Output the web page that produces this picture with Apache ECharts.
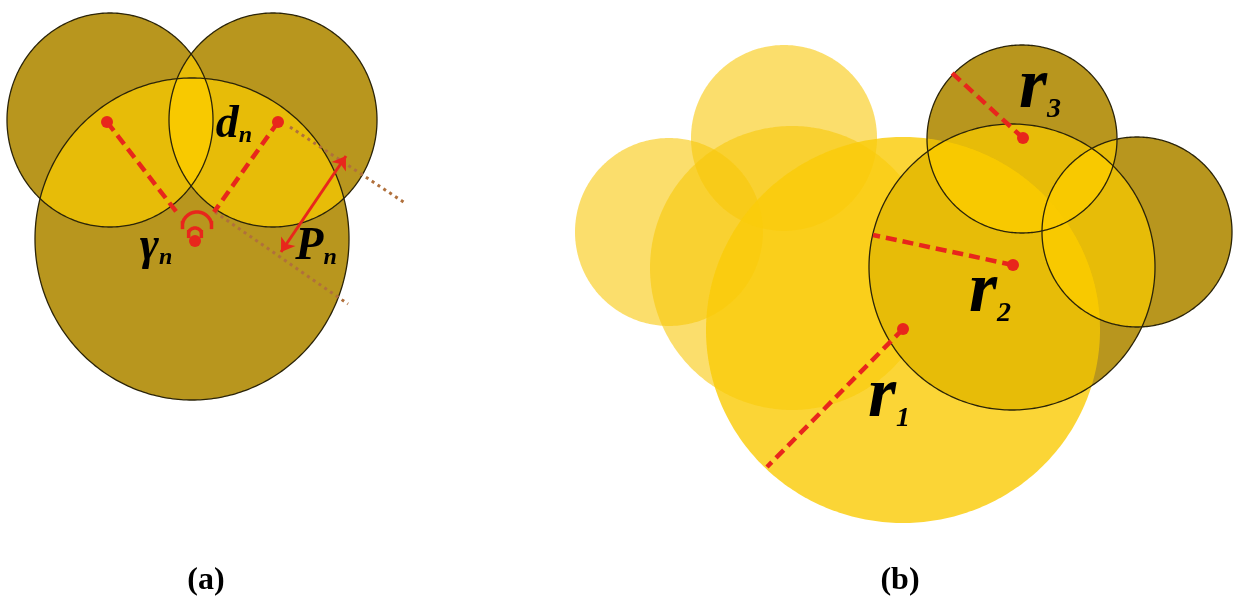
<!DOCTYPE html>
<html>
<head>
<meta charset="utf-8">
<title>coverage circles</title>
<script src="https://cdn.jsdelivr.net/npm/echarts@6/dist/echarts.min.js"></script>
<style>
html, body { margin: 0; padding: 0; background: #fff; }
#main { width: 1240px; height: 606px; }
</style>
</head>
<body>
<div id="main"></div>
<script>
// disks are [cx, cy, rx, ry] in picture units
var disksA = [
    [110, 120, 103, 107],
    [273, 120, 104, 107],
    [192, 239, 157, 161]
];
var paleDisks = [
    [669, 232, 94, 94],
    [784, 138, 93, 93],
    [792, 268, 142, 142]
];
var bigDisk = [[903, 330, 197, 193]];
var darkDisks = [
    [1012, 267, 143, 143],
    [1022, 139, 95, 94],
    [1137, 232, 95, 95]
];

var centersA = [[107, 122], [278, 122], [195, 241]];
var radiusEndsA = [[178, 214], [214, 212]];
var centersB = [[903, 329], [1013, 265], [1023, 138]];
var radiusEndsB = [[767, 467], [873, 235], [952, 73]];
var tangentLines = [[[290, 127], [405, 203]], [[215, 212], [348, 304]]];
var widthArrow = [[281, 252], [346, 156]];
// cx, cy, r, start deg, end deg
var angleArcs = [[197, 227, 15, 15, 165], [195, 235, 7, 25, 155]];

var symbolsA = [['d', 'n', 234, 125], ['γ', 'n', 156, 247], ['P', 'n', 316, 247]];
var symbolsB = [['r', '1', 889, 397], ['r', '2', 990, 292], ['r', '3', 1040, 88]];
var captions = [['(a)', 206, 581], ['(b)', 900, 581]];

var RED = '#e8261c';
var DARK = '#b8961e';
var LIGHT = 'rgba(250,202,0,0.72)';

// overlap tables built from the disks
var lensA = [];
for (var i = 0; i < disksA.length; i++) {
    for (var j = i + 1; j < disksA.length; j++) {
        lensA.push(disksA[i].concat(disksA[j]));
    }
}
var lensB = [];
darkDisks.forEach(function (d, i) {
    lensB.push(d.concat(bigDisk[0]));
    for (var j = i + 1; j < darkDisks.length; j++) {
        lensB.push(d.concat(darkDisks[j]));
    }
});

function toPx(api, c) {
    var p = api.coord([c[0], c[1]]);
    var s = api.size([c[2], c[3]], [c[0], c[1]]);
    return {x: p[0], y: p[1], rx: Math.abs(s[0]), ry: Math.abs(s[1])};
}
function ellipsePts(e, n) {
    var pts = [];
    for (var k = 0; k < n; k++) {
        var t = k / n * Math.PI * 2;
        pts.push([e.x + e.rx * Math.cos(t), e.y + e.ry * Math.sin(t)]);
    }
    return pts;
}
function inside(e, p) {
    var dx = (p[0] - e.x) / e.rx, dy = (p[1] - e.y) / e.ry;
    return dx * dx + dy * dy <= 1.0001;
}
// common part of convex disks, as a polygon
function commonPts(list) {
    var pts = [];
    list.forEach(function (e, k) {
        ellipsePts(e, 900).forEach(function (p) {
            var ok = list.every(function (o, m) { return m === k || inside(o, p); });
            if (ok) pts.push(p);
        });
    });
    if (pts.length < 3) return null;
    var mx = 0, my = 0;
    pts.forEach(function (p) { mx += p[0]; my += p[1]; });
    mx /= pts.length; my /= pts.length;
    pts.sort(function (a, b) {
        return Math.atan2(a[1] - my, a[0] - mx) - Math.atan2(b[1] - my, b[0] - mx);
    });
    return pts;
}

function diskSeries(data, z, style) {
    return {
        type: 'custom', z: z, silent: true, data: data,
        encode: {x: 0, y: 1},
        renderItem: function (params, api) {
            var e = toPx(api, [api.value(0), api.value(1), api.value(2), api.value(3)]);
            return {type: 'polygon', shape: {points: ellipsePts(e, 360)}, style: style};
        }
    };
}
function lensSeries(data, z) {
    return {
        type: 'custom', z: z, silent: true, data: data,
        encode: {x: [0, 4], y: [1, 5]},
        renderItem: function (params, api) {
            var a = toPx(api, [api.value(0), api.value(1), api.value(2), api.value(3)]);
            var b = toPx(api, [api.value(4), api.value(5), api.value(6), api.value(7)]);
            var pts = commonPts([a, b]);
            if (!pts) return null;
            return {type: 'polygon', shape: {points: pts}, style: {fill: LIGHT}};
        }
    };
}
function segs(from, to) {
    return to.map(function (p, i) { return {coords: [from[i], p]}; });
}
function symbolData(rows) {
    return rows.map(function (r) { return {value: [r[2], r[3]], main: r[0], sub: r[1]}; });
}
function symbolLabel(fm, fs, subLH) {
    var base = {fontFamily: 'Liberation Serif', fontStyle: 'italic', color: '#000', opacity: 1};
    return {
        show: true, position: 'inside',
        formatter: function (p) { return '{m|' + p.data.main + '}{s|' + p.data.sub + '}'; },
        rich: {
            m: Object.assign({}, base, {fontSize: fm, fontWeight: 'bold', lineHeight: fm, verticalAlign: 'bottom'}),
            s: Object.assign({}, base, {fontSize: fs, fontWeight: 'bold', lineHeight: subLH, verticalAlign: 'bottom'})
        }
    };
}

var chart = echarts.init(document.getElementById('main'));

var option = {
    animation: false,
    grid: {left: 0, right: 0, top: 0, bottom: 0},
    xAxis: {type: 'value', min: 0, max: 1240, show: false},
    yAxis: {type: 'value', min: 0, max: 606, inverse: true, show: false},
    series: [
        diskSeries(paleDisks, 1, {fill: 'rgba(248,200,10,0.6)'}),
        diskSeries(bigDisk, 2, {fill: 'rgba(250,204,10,0.82)'}),
        diskSeries(disksA.concat(darkDisks), 3, {fill: DARK}),
        lensSeries(lensA.concat(lensB), 4),
        diskSeries(disksA.concat(darkDisks), 5, {fill: 'none', stroke: '#2b2408', lineWidth: 1.3}),
        {
            type: 'lines', coordinateSystem: 'cartesian2d', z: 6, silent: true,
            data: tangentLines.map(function (l) { return {coords: l}; }),
            lineStyle: {color: '#b0703c', width: 3, type: [3, 4], opacity: 1}
        },
        {
            type: 'lines', coordinateSystem: 'cartesian2d', z: 7, silent: true,
            data: segs(centersA, radiusEndsA).concat(segs(centersB, radiusEndsB)),
            lineStyle: {color: RED, width: 4.5, type: [11, 6], opacity: 1}
        },
        {
            type: 'lines', coordinateSystem: 'cartesian2d', z: 8, silent: true,
            data: [{coords: widthArrow}],
            symbol: ['arrow', 'arrow'], symbolSize: 13,
            lineStyle: {color: RED, width: 3, opacity: 1}
        },
        {
            type: 'custom', z: 8, silent: true, data: angleArcs,
            encode: {x: 0, y: 1},
            renderItem: function (params, api) {
                var cx = api.value(0), cy = api.value(1), r = api.value(2);
                var a0 = api.value(3), a1 = api.value(4);
                var pts = [];
                for (var k = 0; k <= 30; k++) {
                    var t = (a0 + (a1 - a0) * k / 30) * Math.PI / 180;
                    pts.push(api.coord([cx + r * Math.cos(t), cy - r * Math.sin(t)]));
                }
                var first = pts[0], last = pts[pts.length - 1];
                return {
                    type: 'group',
                    children: [
                        {type: 'polyline', shape: {points: pts}, style: {stroke: RED, lineWidth: 3.5, fill: 'none'}},
                        {type: 'line', shape: {x1: first[0], y1: first[1] - 2, x2: first[0], y2: first[1] + 6}, style: {stroke: RED, lineWidth: 3.5}},
                        {type: 'line', shape: {x1: last[0], y1: last[1] - 2, x2: last[0], y2: last[1] + 6}, style: {stroke: RED, lineWidth: 3.5}}
                    ]
                };
            }
        },
        {
            type: 'scatter', z: 9, silent: true,
            data: centersA.concat(centersB),
            symbolSize: 12,
            itemStyle: {color: RED, opacity: 1}
        },
        {
            type: 'scatter', z: 10, silent: true, symbolSize: 0,
            itemStyle: {opacity: 1},
            data: symbolData(symbolsA),
            label: symbolLabel(46, 24, 31)
        },
        {
            type: 'scatter', z: 10, silent: true, symbolSize: 0,
            itemStyle: {opacity: 1},
            data: symbolData(symbolsB),
            label: symbolLabel(72, 28, 42)
        },
        {
            type: 'scatter', z: 10, silent: true, symbolSize: 0,
            itemStyle: {opacity: 1},
            data: captions.map(function (c) { return {value: [c[1], c[2]], name: c[0]}; }),
            label: {
                show: true, position: 'inside', formatter: '{b}', opacity: 1,
                fontFamily: 'Liberation Serif', fontWeight: 'bold', fontSize: 32, color: '#000'
            }
        }
    ]
};

chart.setOption(option);
</script>
</body>
</html>
